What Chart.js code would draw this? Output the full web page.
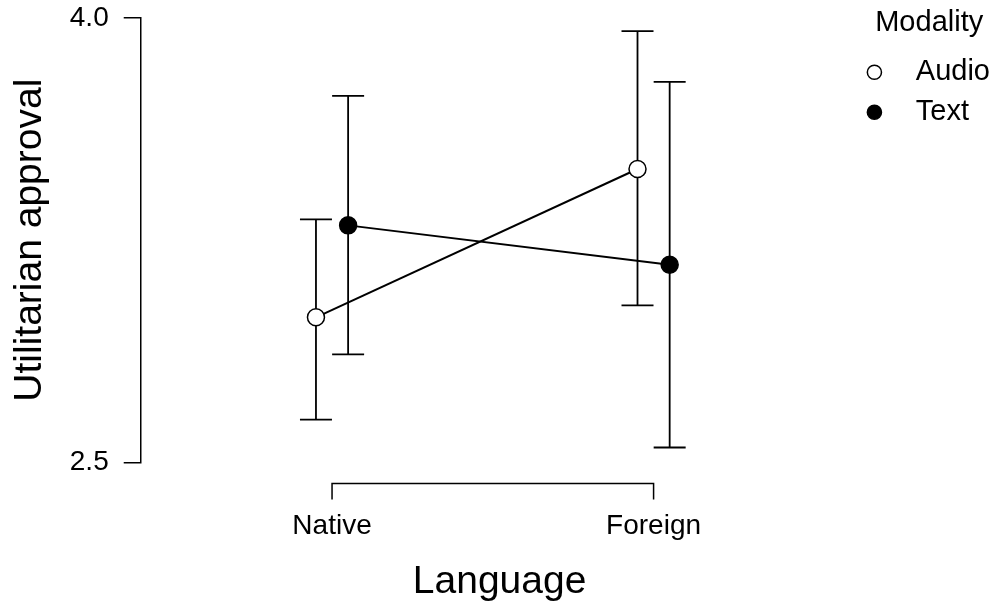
<!DOCTYPE html>
<html>
<head>
<meta charset="utf-8">
<script src="https://cdn.jsdelivr.net/npm/chart.js@4"></script>
<style>
  html, body { margin: 0; padding: 0; background: #fff; }
  #wrap { width: 1000px; height: 612px; }
</style>
</head>
<body>
<div id="wrap"><canvas id="chart" width="1000" height="612"></canvas></div>
<script>
// Data
const languages = ['Native', 'Foreign'];
const audioMean = [2.99, 3.49];
const audioLower = [2.645, 3.03];
const audioUpper = [3.32, 3.955];
const textMean = [3.30, 3.167];
const textLower = [2.865, 2.551];
const textUpper = [3.737, 3.784];
const yTicks = [2.5, 4.0];

const dodge = 0.05; // horizontal offset between the two groups
const FONT = 'Liberation Sans, Arial';

function toPoints(means, lows, highs, shift) {
    return means.map((m, i) => ({ x: i + 1 + shift, y: m, lo: lows[i], hi: highs[i] }));
}

// error bars, drawn under the points
const errorBars = {
    id: 'errorBars',
    beforeDatasetsDraw(chart) {
        const ctx = chart.ctx;
        const xs = chart.scales.x, ys = chart.scales.y;
        ctx.save();
        ctx.strokeStyle = '#000';
        ctx.lineWidth = 1.8;
        chart.data.datasets.forEach(ds => {
            ds.data.forEach(p => {
                const x = xs.getPixelForValue(p.x);
                const top = ys.getPixelForValue(p.hi);
                const bot = ys.getPixelForValue(p.lo);
                ctx.beginPath();
                ctx.moveTo(x, top); ctx.lineTo(x, bot);
                ctx.moveTo(x - 16, top); ctx.lineTo(x + 16, top);
                ctx.moveTo(x - 16, bot); ctx.lineTo(x + 16, bot);
                ctx.stroke();
            });
        });
        ctx.restore();
    }
};

// x axis line only between the first and last category, a bit below the plot
const xAxisLine = {
    id: 'xAxisLine',
    afterDraw(chart) {
        const ctx = chart.ctx;
        const xs = chart.scales.x;
        const y = chart.chartArea.bottom + 21;
        const x1 = xs.getPixelForValue(1);
        const x2 = xs.getPixelForValue(languages.length);
        ctx.save();
        ctx.strokeStyle = '#000';
        ctx.lineWidth = 1.5;
        ctx.beginPath();
        ctx.moveTo(x1, y + 16); ctx.lineTo(x1, y);
        ctx.lineTo(x2, y); ctx.lineTo(x2, y + 16);
        ctx.stroke();
        ctx.restore();
    }
};

new Chart(document.getElementById('chart'), {
    type: 'line',
    data: {
        datasets: [
            {
                label: '  \u2009Audio',
                data: toPoints(audioMean, audioLower, audioUpper, -dodge),
                borderColor: '#000',
                borderWidth: 2,
                backgroundColor: '#fff',
                pointBackgroundColor: '#fff',
                pointBorderColor: '#000',
                pointBorderWidth: 1.5,
                pointRadius: 8.5,
                pointStyle: 'circle'
            },
            {
                label: '  \u2009Text',
                data: toPoints(textMean, textLower, textUpper, dodge),
                borderColor: '#000',
                borderWidth: 2,
                backgroundColor: '#000',
                pointBackgroundColor: '#000',
                pointBorderColor: '#000',
                pointBorderWidth: 1.5,
                pointRadius: 8.5,
                pointStyle: 'circle'
            }
        ]
    },
    options: {
        responsive: false,
        animation: false,
        layout: { autoPadding: false, padding: { top: 4, right: 0, left: 0, bottom: 0 } },
        scales: {
            x: {
                type: 'linear',
                min: 0.405,
                max: 2.637,
                afterBuildTicks: scale => {
                    scale.ticks = languages.map((l, i) => ({ value: i + 1 }));
                },
                ticks: {
                    color: '#000',
                    font: { family: FONT, size: 28 },
                    padding: 47,
                    callback: v => languages[v - 1]
                },
                grid: { display: false, drawTicks: false },
                border: { display: false },
                title: {
                    display: true,
                    text: 'Language',
                    color: '#000',
                    font: { family: FONT, size: 39 },
                    padding: { top: -31, bottom: 6 }
                }
            },
            y: {
                min: 2.5,
                max: 4.0,
                afterBuildTicks: scale => {
                    scale.ticks = yTicks.map(v => ({ value: v }));
                },
                ticks: {
                    color: '#000',
                    font: { family: FONT, size: 28, lineHeight: 0.2 },
                    padding: 15,
                    callback: v => v.toFixed(1)
                },
                grid: {
                    drawOnChartArea: false,
                    drawTicks: true,
                    tickLength: 17,
                    color: '#000',
                    lineWidth: 1.5
                },
                border: { display: true, color: '#000', width: 1.5 },
                title: {
                    display: true,
                    text: 'Utilitarian approval',
                    color: '#000',
                    font: { family: FONT, size: 39 },
                    padding: { top: 7, bottom: 1 }
                }
            }
        },
        plugins: {
            legend: {
                display: true,
                position: 'right',
                align: 'start',
                title: {
                    display: true,
                    text: 'Modality',
                    color: '#000',
                    font: { family: FONT, size: 29 },
                    position: 'center',
                    padding: { top: 4, bottom: 4 }
                },
                labels: {
                    color: '#000',
                    font: { family: FONT, size: 29 },
                    usePointStyle: true,
                    boxWidth: 10,
                    boxHeight: 10,
                    padding: 11
                }
            },
            tooltip: { enabled: false }
        }
    },
    plugins: [errorBars, xAxisLine]
});
</script>
</body>
</html>
